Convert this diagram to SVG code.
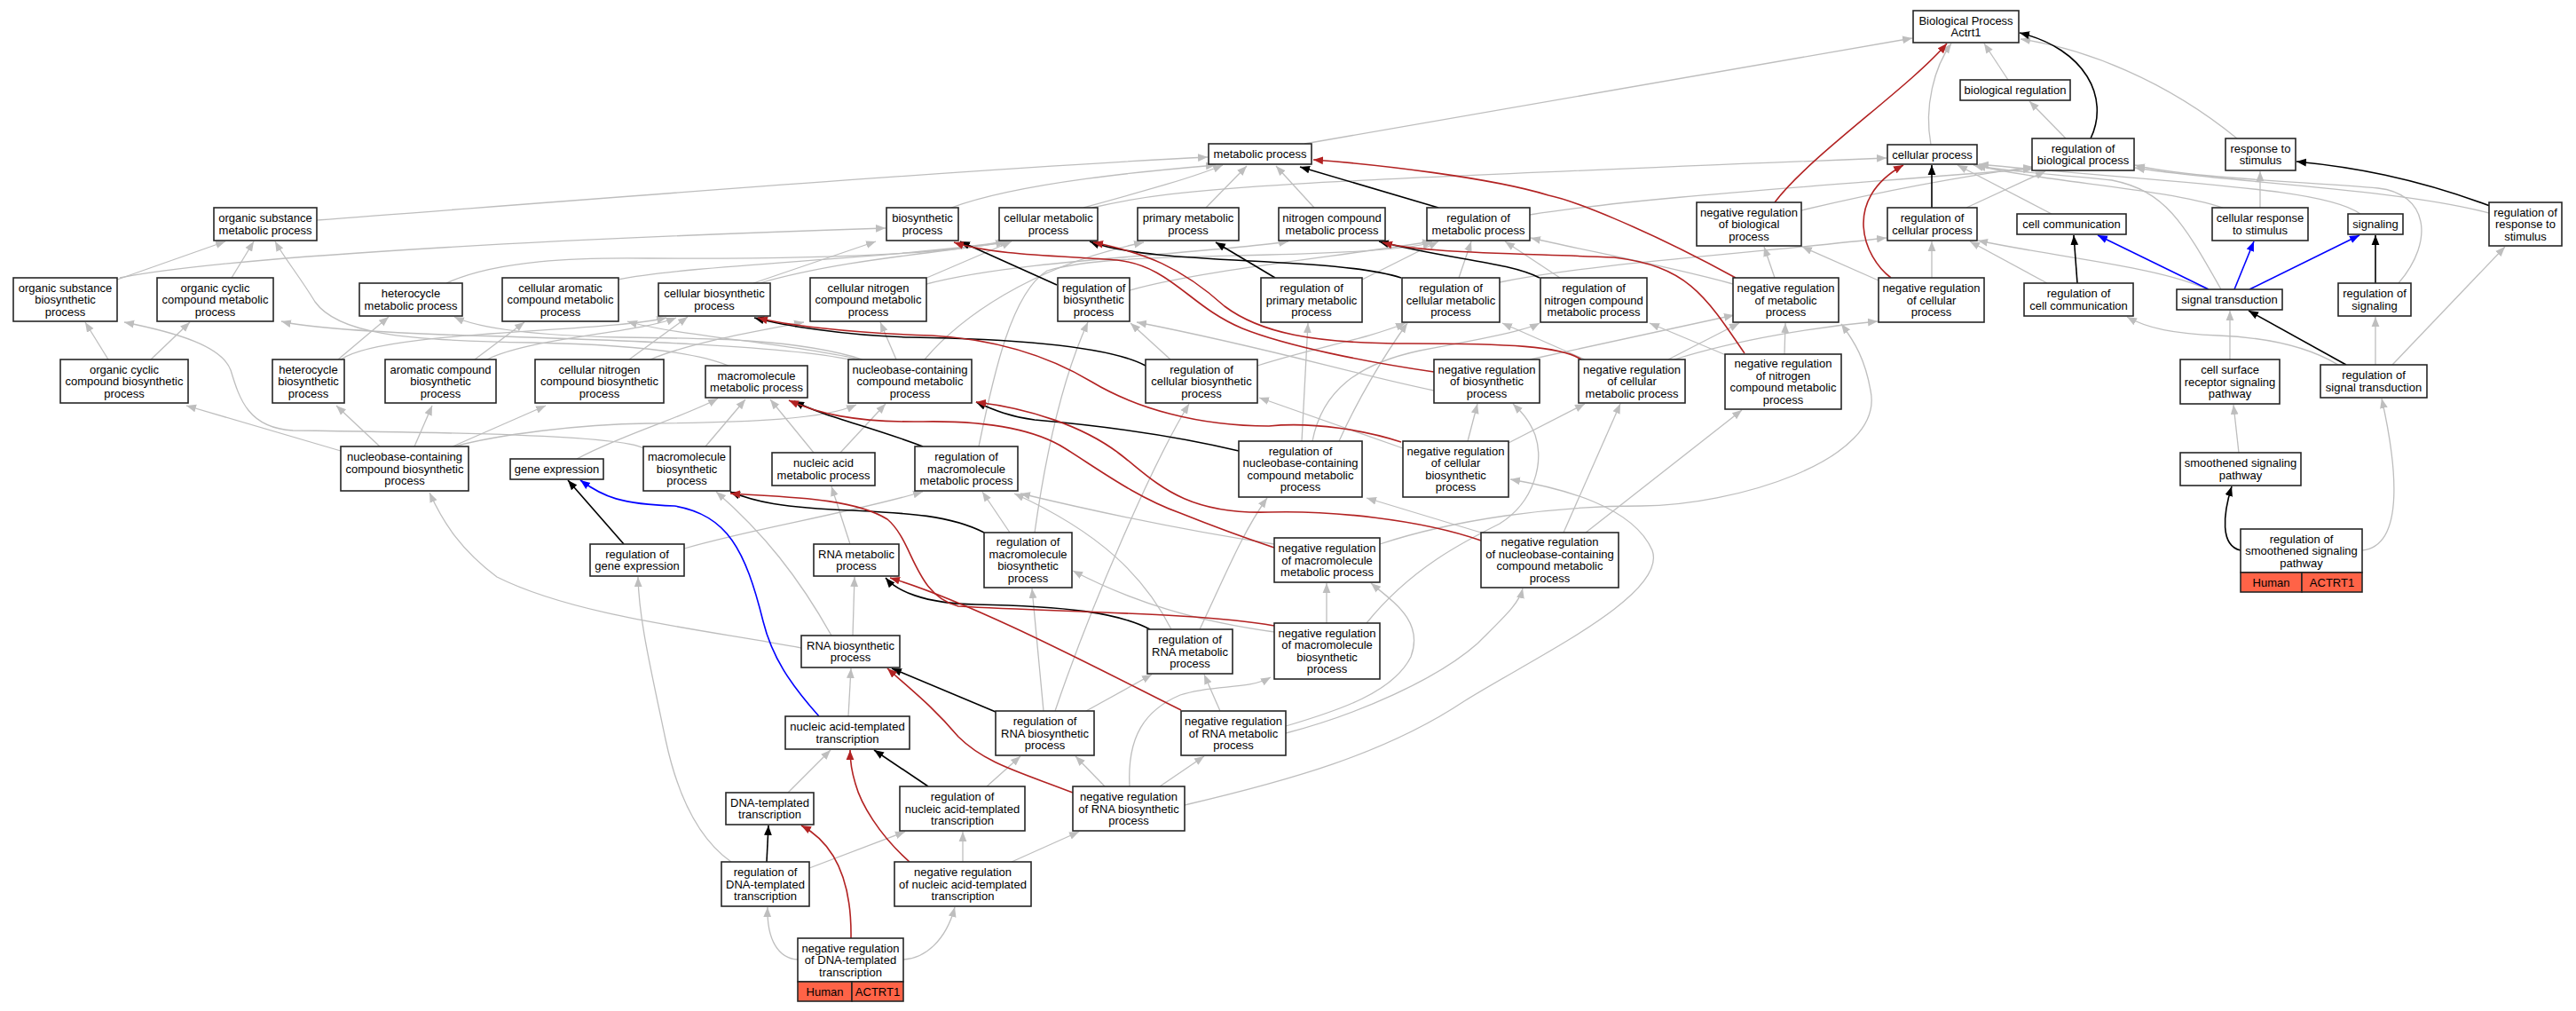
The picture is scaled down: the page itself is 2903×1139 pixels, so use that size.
<svg xmlns="http://www.w3.org/2000/svg" width="2903" height="1139" viewBox="0 0 2903 1139">
<style>
.n rect{fill:#fff;stroke:#262626;stroke-width:1.6}
.n rect.h{fill:#ff6347}
.n text{font-family:"Liberation Sans",Arial,sans-serif;font-size:13px;fill:#000;text-anchor:middle}
#edges path{fill:none}
.g{stroke:#bebebe;stroke-width:1.3;marker-end:url(#mg)}
.k{stroke:#000;stroke-width:1.6;marker-end:url(#mk)}
.r{stroke:#b22222;stroke-width:1.6;marker-end:url(#mr)}
.b{stroke:#0000ff;stroke-width:1.6;marker-end:url(#mb)}
</style>
<defs>
<marker id="mg" viewBox="0 0 10 10" refX="10" refY="5" markerWidth="11" markerHeight="11" markerUnits="userSpaceOnUse" orient="auto"><path d="M0,1 L10,5 L0,9 z" fill="#bebebe"/></marker>
<marker id="mk" viewBox="0 0 10 10" refX="10" refY="5" markerWidth="11" markerHeight="11" markerUnits="userSpaceOnUse" orient="auto"><path d="M0,1 L10,5 L0,9 z" fill="#000"/></marker>
<marker id="mr" viewBox="0 0 10 10" refX="10" refY="5" markerWidth="11" markerHeight="11" markerUnits="userSpaceOnUse" orient="auto"><path d="M0,1 L10,5 L0,9 z" fill="#b22222"/></marker>
<marker id="mb" viewBox="0 0 10 10" refX="10" refY="5" markerWidth="11" markerHeight="11" markerUnits="userSpaceOnUse" orient="auto"><path d="M0,1 L10,5 L0,9 z" fill="#0000ff"/></marker>
</defs>
<rect width="2903" height="1139" fill="#fff"/>
<g id="edges">
<path class="g" d="M1470,162 L2155,43"/>
<path class="g" d="M2176,163 C2168,120 2180,75 2199,49"/>
<path class="g" d="M2263,90 L2236,49"/>
<path class="g" d="M2521,156 C2440,90 2350,55 2277,44"/>
<path class="g" d="M2328,156 L2287,114"/>
<path class="g" d="M2312,241 L2206,186"/>
<path class="g" d="M2503,326 C2460,250 2440,215 2380,203 C2300,195 2250,192 2224,186"/>
<path class="g" d="M1231,234 C1330,210 1450,205 2126,178"/>
<path class="g" d="M2505,234 C2440,212 2300,205 2227,186"/>
<path class="g" d="M2660,241 C2620,212 2470,208 2230,185"/>
<path class="g" d="M2547,234 L2547,193"/>
<path class="g" d="M2805,240 C2700,212 2500,205 2406,189"/>
<path class="g" d="M2703,319 C2745,270 2735,218 2680,212 C2600,205 2460,200 2406,186"/>
<path class="g" d="M2216,234 L2305,193"/>
<path class="g" d="M2030,237 C2110,218 2200,200 2291,188"/>
<path class="g" d="M1724,242 C1850,222 2050,210 2291,190"/>
<path class="g" d="M2177,313 L2177,272"/>
<path class="g" d="M2307,319 L2220,272"/>
<path class="g" d="M2488,326 C2430,300 2330,292 2229,271"/>
<path class="g" d="M1690,318 C1800,296 1950,288 2126,268"/>
<path class="g" d="M2117,316 L2031,278"/>
<path class="g" d="M1887,405 C1960,382 2050,368 2116,362"/>
<path class="g" d="M1880,405 L1960,364"/>
<path class="g" d="M2011,399 L2012,364"/>
<path class="g" d="M1555,613 C1640,585 1750,570 1850,570 C1950,570 2125,520 2108,440 C2102,405 2090,385 2075,365"/>
<path class="g" d="M1953,320 C1880,300 1800,285 1725,268"/>
<path class="g" d="M2000,313 L1988,278"/>
<path class="g" d="M1481,234 L1438,187"/>
<path class="g" d="M1359,234 L1405,187"/>
<path class="g" d="M1221,234 C1290,215 1345,200 1378,186"/>
<path class="g" d="M1072,234 C1150,205 1300,192 1370,186"/>
<path class="g" d="M357,248 C700,222 1100,190 1361,177"/>
<path class="g" d="M132,315 L254,272"/>
<path class="g" d="M261,313 L286,272"/>
<path class="g" d="M135,313 C250,290 600,270 998,257"/>
<path class="g" d="M122,405 L96,363"/>
<path class="g" d="M170,405 L214,363"/>
<path class="g" d="M381,405 L438,357"/>
<path class="g" d="M384,405 C430,372 680,375 751,358"/>
<path class="g" d="M535,405 L591,363"/>
<path class="g" d="M549,405 C600,380 720,375 762,358"/>
<path class="g" d="M709,405 L775,357"/>
<path class="g" d="M733,405 C780,385 860,372 906,363"/>
<path class="g" d="M503,319 C560,293 650,290 730,291 C900,292 1060,288 1133,272"/>
<path class="g" d="M696,315 C780,298 1000,292 1135,272"/>
<path class="g" d="M849,319 L987,272"/>
<path class="g" d="M856,319 C950,292 1060,285 1138,272"/>
<path class="g" d="M1042,314 L1140,272"/>
<path class="g" d="M1044,320 C1150,292 1350,287 1452,272"/>
<path class="g" d="M1273,327 C1350,305 1500,290 1614,272"/>
<path class="g" d="M1535,315 L1621,272"/>
<path class="g" d="M1644,313 L1658,272"/>
<path class="g" d="M1758,313 L1696,272"/>
<path class="g" d="M1616,440 C1520,420 1430,392 1281,363"/>
<path class="g" d="M1724,405 L1954,355"/>
<path class="g" d="M1786,405 L1693,364"/>
<path class="g" d="M1945,400 L1859,364"/>
<path class="g" d="M1319,405 L1274,364"/>
<path class="g" d="M1417,412 C1480,392 1540,382 1584,364"/>
<path class="g" d="M1654,497 L1665,455"/>
<path class="g" d="M1700,499 L1786,455"/>
<path class="g" d="M1581,505 L1419,448"/>
<path class="g" d="M384,508 L210,457"/>
<path class="g" d="M428,503 L379,457"/>
<path class="g" d="M467,503 L487,457"/>
<path class="g" d="M510,503 L615,457"/>
<path class="g" d="M512,503 C560,490 650,478 730,477 C850,476 930,472 965,456"/>
<path class="g" d="M972,405 C900,382 800,381 700,380 C600,378 540,370 512,357"/>
<path class="g" d="M968,405 C900,388 760,378 707,362"/>
<path class="g" d="M965,407 C900,390 700,383 500,377 C400,373 340,368 317,362"/>
<path class="g" d="M1010,405 L992,363"/>
<path class="g" d="M1042,405 C1080,360 1160,300 1289,273"/>
<path class="g" d="M821,412 C780,395 700,388 600,386 C450,384 380,375 355,340 C338,312 320,290 310,272"/>
<path class="g" d="M725,505 C700,490 500,487 330,485 C280,482 270,450 260,417 C250,390 200,375 140,363"/>
<path class="g" d="M650,517 C700,490 770,470 809,449"/>
<path class="g" d="M795,503 L840,450"/>
<path class="g" d="M917,510 L868,450"/>
<path class="g" d="M947,510 L998,455"/>
<path class="g" d="M1103,503 C1120,420 1140,330 1180,305 C1230,290 1320,290 1430,287 C1520,285 1590,280 1614,273"/>
<path class="g" d="M1467,497 L1474,364"/>
<path class="g" d="M1509,497 C1530,450 1560,400 1586,364"/>
<path class="g" d="M1479,497 C1490,440 1530,410 1600,395 C1680,380 1720,372 1735,364"/>
<path class="g" d="M1669,600 L1540,561"/>
<path class="g" d="M1787,600 L1963,462"/>
<path class="g" d="M1762,600 L1826,455"/>
<path class="g" d="M2523,510 L2517,456"/>
<path class="g" d="M2662,620 C2712,615 2700,520 2684,449"/>
<path class="g" d="M2513,405 L2513,350"/>
<path class="g" d="M2677,411 L2677,357"/>
<path class="g" d="M2696,411 L2823,278"/>
<path class="g" d="M2635,411 C2600,390 2550,380 2500,378 C2450,376 2420,370 2397,357"/>
<path class="g" d="M771,618 C850,595 950,580 1040,554"/>
<path class="g" d="M958,613 L937,548"/>
<path class="g" d="M1138,600 L1107,554"/>
<path class="g" d="M1166,600 C1180,500 1200,420 1226,363"/>
<path class="g" d="M1436,613 C1350,600 1250,580 1150,556"/>
<path class="g" d="M1495,702 L1495,657"/>
<path class="g" d="M1436,712 C1350,700 1280,680 1209,643"/>
<path class="g" d="M1540,702 C1590,640 1650,610 1690,590 C1730,565 1740,520 1730,490 C1722,470 1712,462 1705,455"/>
<path class="g" d="M961,716 L963,650"/>
<path class="g" d="M937,716 C900,650 860,600 807,554"/>
<path class="g" d="M903,730 C800,710 650,695 560,650 C520,620 500,590 484,555"/>
<path class="g" d="M1352,709 C1380,650 1400,600 1428,561"/>
<path class="g" d="M1320,709 C1290,650 1240,600 1143,556"/>
<path class="g" d="M956,807 L959,753"/>
<path class="g" d="M1224,801 L1298,760"/>
<path class="g" d="M1176,801 L1163,663"/>
<path class="g" d="M1189,801 C1230,680 1300,520 1340,455"/>
<path class="g" d="M1375,801 L1357,760"/>
<path class="g" d="M1449,818 C1510,800 1570,780 1590,740 C1605,700 1570,678 1545,657"/>
<path class="g" d="M1449,826 C1530,805 1620,765 1665,725 C1695,695 1712,680 1716,663"/>
<path class="g" d="M888,893 L936,845"/>
<path class="g" d="M1112,886 L1150,852"/>
<path class="g" d="M1245,886 L1212,852"/>
<path class="g" d="M1307,886 L1357,852"/>
<path class="g" d="M1273,886 C1270,830 1290,800 1330,783 C1370,770 1405,778 1432,763"/>
<path class="g" d="M1335,907 C1450,880 1560,850 1650,790 C1730,740 1880,670 1862,620 C1840,570 1760,550 1702,540"/>
<path class="g" d="M912,978 L1020,937"/>
<path class="g" d="M824,971 C780,940 760,880 750,833 C735,760 720,700 719,650"/>
<path class="g" d="M1085,971 L1085,937"/>
<path class="g" d="M1140,971 L1216,937"/>
<path class="g" d="M899,1081 C878,1080 864,1060 865,1022"/>
<path class="g" d="M1018,1081 C1042,1080 1066,1060 1076,1022"/>
<path class="k" d="M2356,156 C2378,110 2350,55 2276,37"/>
<path class="k" d="M2177,234 L2177,186"/>
<path class="k" d="M2806,232 C2720,200 2650,188 2588,182"/>
<path class="k" d="M2341,319 L2337,265"/>
<path class="k" d="M2677,319 L2677,265"/>
<path class="k" d="M1621,234 L1465,188"/>
<path class="k" d="M1191,321 L1082,272"/>
<path class="k" d="M1437,313 L1370,273"/>
<path class="k" d="M1579,313 C1500,288 1300,300 1228,272"/>
<path class="k" d="M1735,313 C1700,295 1630,292 1554,272"/>
<path class="k" d="M1291,412 C1250,390 1150,382 1026,380 C950,378 880,366 850,358"/>
<path class="k" d="M1040,503 C980,480 930,470 895,452"/>
<path class="k" d="M1396,508 C1300,485 1200,476 1166,473 C1140,470 1120,462 1100,453"/>
<path class="k" d="M2644,411 L2534,350"/>
<path class="k" d="M2525,620 C2502,615 2505,580 2515,548"/>
<path class="k" d="M703,613 L640,541"/>
<path class="k" d="M1109,600 C1070,580 1020,578 960,575 C880,572 850,565 823,554"/>
<path class="k" d="M1296,709 C1260,690 1200,683 1100,681 C1040,680 1010,665 998,651"/>
<path class="k" d="M1122,802 L1005,753"/>
<path class="k" d="M1046,886 L985,845"/>
<path class="k" d="M864,971 L866,930"/>
<path class="r" d="M2000,228 C2040,175 2150,100 2194,49"/>
<path class="r" d="M2131,313 C2100,290 2075,225 2145,186"/>
<path class="r" d="M1956,313 C1850,255 1770,225 1745,220 C1680,200 1550,185 1480,180"/>
<path class="r" d="M1966,398 C1920,330 1900,300 1819,290 C1700,285 1600,285 1558,273"/>
<path class="r" d="M1782,405 C1760,390 1700,387 1586,387 C1480,387 1420,375 1380,345 C1330,300 1290,285 1232,273"/>
<path class="r" d="M1616,419 C1540,408 1450,390 1400,370 C1340,345 1320,300 1259,293 C1200,288 1120,288 1075,273"/>
<path class="r" d="M1579,498 C1540,485 1480,475 1430,480 C1350,480 1280,460 1230,430 C1180,400 1120,382 1050,378 C950,375 880,365 854,358"/>
<path class="r" d="M1669,609 C1600,585 1500,575 1430,577 C1330,580 1300,540 1260,510 C1220,480 1160,460 1100,453"/>
<path class="r" d="M1436,617 C1400,605 1360,590 1330,578 C1280,560 1240,530 1200,505 C1160,480 1100,474 1040,475 C960,476 920,465 889,451"/>
<path class="r" d="M1436,705 C1350,690 1200,690 1080,683 C1030,670 1030,610 1000,585 C960,560 880,560 823,556"/>
<path class="r" d="M1331,800 C1250,760 1100,680 1003,651"/>
<path class="r" d="M1209,893 C1150,870 1110,860 1080,830 C1050,795 1030,780 1000,753"/>
<path class="r" d="M1025,971 C990,940 970,905 964,883 C960,870 958,860 958,845"/>
<path class="r" d="M959,1057 C960,990 940,950 903,930"/>
<path class="b" d="M2489,326 L2364,265"/>
<path class="b" d="M2518,326 L2540,272"/>
<path class="b" d="M2535,326 L2659,265"/>
<path class="b" d="M923,807 C890,770 870,740 860,700 C840,620 820,580 760,570 C700,568 680,560 654,541"/>
</g>
<g id="nodes">
<g id="bp" class="n"><rect x="2156" y="12" width="119" height="36"/><text><tspan x="2215.5" y="27.9">Biological Process</tspan><tspan x="2215.5" y="41.4">Actrt1</tspan></text></g>
<g id="breg" class="n"><rect x="2209" y="90" width="124" height="23"/><text><tspan x="2271" y="106.1">biological regulation</tspan></text></g>
<g id="cp" class="n"><rect x="2127" y="163" width="101" height="22"/><text><tspan x="2177.5" y="178.6">cellular process</tspan></text></g>
<g id="rbp" class="n"><rect x="2290" y="156" width="115" height="36"/><text><tspan x="2347.5" y="171.9">regulation of</tspan><tspan x="2347.5" y="185.4">biological process</tspan></text></g>
<g id="rts" class="n"><rect x="2508" y="156" width="79" height="36"/><text><tspan x="2547.5" y="171.9">response to</tspan><tspan x="2547.5" y="185.4">stimulus</tspan></text></g>
<g id="mp" class="n"><rect x="1362" y="162" width="116" height="23"/><text><tspan x="1420" y="178.1">metabolic process</tspan></text></g>
<g id="osmp" class="n"><rect x="241" y="234" width="116" height="37"/><text><tspan x="299" y="250.4">organic substance</tspan><tspan x="299" y="263.9">metabolic process</tspan></text></g>
<g id="bsp" class="n"><rect x="999" y="234" width="81" height="37"/><text><tspan x="1039.5" y="250.4">biosynthetic</tspan><tspan x="1039.5" y="263.9">process</tspan></text></g>
<g id="cmp" class="n"><rect x="1126" y="234" width="111" height="37"/><text><tspan x="1181.5" y="250.4">cellular metabolic</tspan><tspan x="1181.5" y="263.9">process</tspan></text></g>
<g id="pmp" class="n"><rect x="1282" y="234" width="114" height="37"/><text><tspan x="1339" y="250.4">primary metabolic</tspan><tspan x="1339" y="263.9">process</tspan></text></g>
<g id="ncmp" class="n"><rect x="1441" y="234" width="120" height="37"/><text><tspan x="1501" y="250.4">nitrogen compound</tspan><tspan x="1501" y="263.9">metabolic process</tspan></text></g>
<g id="rmp" class="n"><rect x="1608" y="234" width="116" height="37"/><text><tspan x="1666" y="250.4">regulation of</tspan><tspan x="1666" y="263.9">metabolic process</tspan></text></g>
<g id="nrbp" class="n"><rect x="1912" y="228" width="118" height="49"/><text><tspan x="1971" y="243.6">negative regulation</tspan><tspan x="1971" y="257.1">of biological</tspan><tspan x="1971" y="270.6">process</tspan></text></g>
<g id="rcp" class="n"><rect x="2127" y="234" width="101" height="37"/><text><tspan x="2177.5" y="250.4">regulation of</tspan><tspan x="2177.5" y="263.9">cellular process</tspan></text></g>
<g id="cc" class="n"><rect x="2273" y="241" width="123" height="23"/><text><tspan x="2334.5" y="257.1">cell communication</tspan></text></g>
<g id="crs" class="n"><rect x="2493" y="234" width="108" height="37"/><text><tspan x="2547" y="250.4">cellular response</tspan><tspan x="2547" y="263.9">to stimulus</tspan></text></g>
<g id="sig" class="n"><rect x="2646" y="241" width="62" height="23"/><text><tspan x="2677" y="257.1">signaling</tspan></text></g>
<g id="rrs" class="n"><rect x="2805" y="228" width="82" height="49"/><text><tspan x="2846" y="243.6">regulation of</tspan><tspan x="2846" y="257.1">response to</tspan><tspan x="2846" y="270.6">stimulus</tspan></text></g>
<g id="osbp" class="n"><rect x="15" y="313" width="117" height="49"/><text><tspan x="73.5" y="328.6">organic substance</tspan><tspan x="73.5" y="342.1">biosynthetic</tspan><tspan x="73.5" y="355.6">process</tspan></text></g>
<g id="occmp" class="n"><rect x="177" y="313" width="131" height="49"/><text><tspan x="242.5" y="328.6">organic cyclic</tspan><tspan x="242.5" y="342.1">compound metabolic</tspan><tspan x="242.5" y="355.6">process</tspan></text></g>
<g id="hmp" class="n"><rect x="405" y="319" width="116" height="37"/><text><tspan x="463" y="335.4">heterocycle</tspan><tspan x="463" y="348.9">metabolic process</tspan></text></g>
<g id="cacmp" class="n"><rect x="566" y="313" width="131" height="49"/><text><tspan x="631.5" y="328.6">cellular aromatic</tspan><tspan x="631.5" y="342.1">compound metabolic</tspan><tspan x="631.5" y="355.6">process</tspan></text></g>
<g id="cbp" class="n"><rect x="742" y="319" width="126" height="37"/><text><tspan x="805" y="335.4">cellular biosynthetic</tspan><tspan x="805" y="348.9">process</tspan></text></g>
<g id="cncmp" class="n"><rect x="913" y="313" width="131" height="49"/><text><tspan x="978.5" y="328.6">cellular nitrogen</tspan><tspan x="978.5" y="342.1">compound metabolic</tspan><tspan x="978.5" y="355.6">process</tspan></text></g>
<g id="rbsp" class="n"><rect x="1192" y="313" width="81" height="49"/><text><tspan x="1232.5" y="328.6">regulation of</tspan><tspan x="1232.5" y="342.1">biosynthetic</tspan><tspan x="1232.5" y="355.6">process</tspan></text></g>
<g id="rpmp" class="n"><rect x="1421" y="313" width="114" height="50"/><text><tspan x="1478" y="329.1">regulation of</tspan><tspan x="1478" y="342.6">primary metabolic</tspan><tspan x="1478" y="356.1">process</tspan></text></g>
<g id="rcmp" class="n"><rect x="1580" y="313" width="110" height="50"/><text><tspan x="1635" y="329.1">regulation of</tspan><tspan x="1635" y="342.6">cellular metabolic</tspan><tspan x="1635" y="356.1">process</tspan></text></g>
<g id="rncmp" class="n"><rect x="1736" y="313" width="120" height="50"/><text><tspan x="1796" y="329.1">regulation of</tspan><tspan x="1796" y="342.6">nitrogen compound</tspan><tspan x="1796" y="356.1">metabolic process</tspan></text></g>
<g id="nrmp" class="n"><rect x="1953" y="313" width="119" height="50"/><text><tspan x="2012.5" y="329.1">negative regulation</tspan><tspan x="2012.5" y="342.6">of metabolic</tspan><tspan x="2012.5" y="356.1">process</tspan></text></g>
<g id="nrcp" class="n"><rect x="2117" y="313" width="119" height="50"/><text><tspan x="2176.5" y="329.1">negative regulation</tspan><tspan x="2176.5" y="342.6">of cellular</tspan><tspan x="2176.5" y="356.1">process</tspan></text></g>
<g id="rcc" class="n"><rect x="2281" y="319" width="123" height="37"/><text><tspan x="2342.5" y="335.4">regulation of</tspan><tspan x="2342.5" y="348.9">cell communication</tspan></text></g>
<g id="st" class="n"><rect x="2453" y="326" width="119" height="23"/><text><tspan x="2512.5" y="342.1">signal transduction</tspan></text></g>
<g id="rsig" class="n"><rect x="2635" y="319" width="82" height="37"/><text><tspan x="2676" y="335.4">regulation of</tspan><tspan x="2676" y="348.9">signaling</tspan></text></g>
<g id="occbp" class="n"><rect x="68" y="405" width="144" height="49"/><text><tspan x="140" y="420.6">organic cyclic</tspan><tspan x="140" y="434.1">compound biosynthetic</tspan><tspan x="140" y="447.6">process</tspan></text></g>
<g id="hbp" class="n"><rect x="307" y="405" width="81" height="49"/><text><tspan x="347.5" y="420.6">heterocycle</tspan><tspan x="347.5" y="434.1">biosynthetic</tspan><tspan x="347.5" y="447.6">process</tspan></text></g>
<g id="acbp" class="n"><rect x="434" y="405" width="125" height="49"/><text><tspan x="496.5" y="420.6">aromatic compound</tspan><tspan x="496.5" y="434.1">biosynthetic</tspan><tspan x="496.5" y="447.6">process</tspan></text></g>
<g id="cncbp" class="n"><rect x="603" y="405" width="145" height="49"/><text><tspan x="675.5" y="420.6">cellular nitrogen</tspan><tspan x="675.5" y="434.1">compound biosynthetic</tspan><tspan x="675.5" y="447.6">process</tspan></text></g>
<g id="mmp" class="n"><rect x="795" y="412" width="115" height="36"/><text><tspan x="852.5" y="427.9">macromolecule</tspan><tspan x="852.5" y="441.4">metabolic process</tspan></text></g>
<g id="nbcmp" class="n"><rect x="956" y="405" width="139" height="49"/><text><tspan x="1025.5" y="420.6">nucleobase-containing</tspan><tspan x="1025.5" y="434.1">compound metabolic</tspan><tspan x="1025.5" y="447.6">process</tspan></text></g>
<g id="rcbp" class="n"><rect x="1291" y="405" width="126" height="49"/><text><tspan x="1354" y="420.6">regulation of</tspan><tspan x="1354" y="434.1">cellular biosynthetic</tspan><tspan x="1354" y="447.6">process</tspan></text></g>
<g id="nrbsp" class="n"><rect x="1616" y="405" width="119" height="49"/><text><tspan x="1675.5" y="420.6">negative regulation</tspan><tspan x="1675.5" y="434.1">of biosynthetic</tspan><tspan x="1675.5" y="447.6">process</tspan></text></g>
<g id="nrcmp" class="n"><rect x="1779" y="405" width="120" height="49"/><text><tspan x="1839" y="420.6">negative regulation</tspan><tspan x="1839" y="434.1">of cellular</tspan><tspan x="1839" y="447.6">metabolic process</tspan></text></g>
<g id="nrncmp" class="n"><rect x="1944" y="399" width="131" height="62"/><text><tspan x="2009.5" y="414.4">negative regulation</tspan><tspan x="2009.5" y="427.9">of nitrogen</tspan><tspan x="2009.5" y="441.4">compound metabolic</tspan><tspan x="2009.5" y="454.9">process</tspan></text></g>
<g id="csrsp" class="n"><rect x="2457" y="405" width="112" height="50"/><text><tspan x="2513" y="421.1">cell surface</tspan><tspan x="2513" y="434.6">receptor signaling</tspan><tspan x="2513" y="448.1">pathway</tspan></text></g>
<g id="rst" class="n"><rect x="2615" y="411" width="120" height="37"/><text><tspan x="2675" y="427.4">regulation of</tspan><tspan x="2675" y="440.9">signal transduction</tspan></text></g>
<g id="nbcbp" class="n"><rect x="384" y="503" width="144" height="50"/><text><tspan x="456" y="519.1">nucleobase-containing</tspan><tspan x="456" y="532.6">compound biosynthetic</tspan><tspan x="456" y="546.1">process</tspan></text></g>
<g id="ge" class="n"><rect x="575" y="517" width="105" height="23"/><text><tspan x="627.5" y="533.1">gene expression</tspan></text></g>
<g id="mbp" class="n"><rect x="725" y="503" width="98" height="50"/><text><tspan x="774" y="519.1">macromolecule</tspan><tspan x="774" y="532.6">biosynthetic</tspan><tspan x="774" y="546.1">process</tspan></text></g>
<g id="namp" class="n"><rect x="870" y="510" width="116" height="37"/><text><tspan x="928" y="526.4">nucleic acid</tspan><tspan x="928" y="539.9">metabolic process</tspan></text></g>
<g id="rmmp" class="n"><rect x="1031" y="503" width="116" height="50"/><text><tspan x="1089" y="519.1">regulation of</tspan><tspan x="1089" y="532.6">macromolecule</tspan><tspan x="1089" y="546.1">metabolic process</tspan></text></g>
<g id="rnbcmp" class="n"><rect x="1396" y="497" width="139" height="63"/><text><tspan x="1465.5" y="512.9">regulation of</tspan><tspan x="1465.5" y="526.4">nucleobase-containing</tspan><tspan x="1465.5" y="539.9">compound metabolic</tspan><tspan x="1465.5" y="553.4">process</tspan></text></g>
<g id="nrcbp" class="n"><rect x="1581" y="497" width="119" height="63"/><text><tspan x="1640.5" y="512.9">negative regulation</tspan><tspan x="1640.5" y="526.4">of cellular</tspan><tspan x="1640.5" y="539.9">biosynthetic</tspan><tspan x="1640.5" y="553.4">process</tspan></text></g>
<g id="ssp" class="n"><rect x="2457" y="510" width="136" height="37"/><text><tspan x="2525" y="526.4">smoothened signaling</tspan><tspan x="2525" y="539.9">pathway</tspan></text></g>
<g id="rssp" class="n"><rect x="2525" y="596" width="137" height="49"/><rect class="h" x="2525" y="645" width="69" height="22"/><rect class="h" x="2594" y="645" width="68" height="22"/><text><tspan x="2593.5" y="611.6">regulation of</tspan><tspan x="2593.5" y="625.1">smoothened signaling</tspan><tspan x="2593.5" y="638.6">pathway</tspan></text><text><tspan x="2559.5" y="660.6">Human</tspan></text><text><tspan x="2628" y="660.6">ACTRT1</tspan></text></g>
<g id="rge" class="n"><rect x="665" y="613" width="106" height="36"/><text><tspan x="718" y="628.9">regulation of</tspan><tspan x="718" y="642.4">gene expression</tspan></text></g>
<g id="rnamp" class="n"><rect x="917" y="613" width="96" height="36"/><text><tspan x="965" y="628.9">RNA metabolic</tspan><tspan x="965" y="642.4">process</tspan></text></g>
<g id="rmbp" class="n"><rect x="1109" y="600" width="99" height="62"/><text><tspan x="1158.5" y="615.4">regulation of</tspan><tspan x="1158.5" y="628.9">macromolecule</tspan><tspan x="1158.5" y="642.4">biosynthetic</tspan><tspan x="1158.5" y="655.9">process</tspan></text></g>
<g id="nrmmp" class="n"><rect x="1436" y="606" width="119" height="50"/><text><tspan x="1495.5" y="622.1">negative regulation</tspan><tspan x="1495.5" y="635.6">of macromolecule</tspan><tspan x="1495.5" y="649.1">metabolic process</tspan></text></g>
<g id="nrnbcmp" class="n"><rect x="1669" y="600" width="155" height="62"/><text><tspan x="1746.5" y="615.4">negative regulation</tspan><tspan x="1746.5" y="628.9">of nucleobase-containing</tspan><tspan x="1746.5" y="642.4">compound metabolic</tspan><tspan x="1746.5" y="655.9">process</tspan></text></g>
<g id="rnabp" class="n"><rect x="903" y="716" width="111" height="36"/><text><tspan x="958.5" y="731.9">RNA biosynthetic</tspan><tspan x="958.5" y="745.4">process</tspan></text></g>
<g id="rrnamp" class="n"><rect x="1293" y="709" width="96" height="50"/><text><tspan x="1341" y="725.1">regulation of</tspan><tspan x="1341" y="738.6">RNA metabolic</tspan><tspan x="1341" y="752.1">process</tspan></text></g>
<g id="nrmbp" class="n"><rect x="1436" y="702" width="119" height="63"/><text><tspan x="1495.5" y="717.9">negative regulation</tspan><tspan x="1495.5" y="731.4">of macromolecule</tspan><tspan x="1495.5" y="744.9">biosynthetic</tspan><tspan x="1495.5" y="758.4">process</tspan></text></g>
<g id="natt" class="n"><rect x="885" y="807" width="140" height="37"/><text><tspan x="955" y="823.4">nucleic acid-templated</tspan><tspan x="955" y="836.9">transcription</tspan></text></g>
<g id="rrnabp" class="n"><rect x="1122" y="801" width="111" height="50"/><text><tspan x="1177.5" y="817.1">regulation of</tspan><tspan x="1177.5" y="830.6">RNA biosynthetic</tspan><tspan x="1177.5" y="844.1">process</tspan></text></g>
<g id="nrrnamp" class="n"><rect x="1331" y="801" width="118" height="50"/><text><tspan x="1390" y="817.1">negative regulation</tspan><tspan x="1390" y="830.6">of RNA metabolic</tspan><tspan x="1390" y="844.1">process</tspan></text></g>
<g id="dtt" class="n"><rect x="818" y="893" width="99" height="36"/><text><tspan x="867.5" y="908.9">DNA-templated</tspan><tspan x="867.5" y="922.4">transcription</tspan></text></g>
<g id="rnatt" class="n"><rect x="1014" y="886" width="141" height="50"/><text><tspan x="1084.5" y="902.1">regulation of</tspan><tspan x="1084.5" y="915.6">nucleic acid-templated</tspan><tspan x="1084.5" y="929.1">transcription</tspan></text></g>
<g id="nrrnabp" class="n"><rect x="1209" y="886" width="126" height="50"/><text><tspan x="1272" y="902.1">negative regulation</tspan><tspan x="1272" y="915.6">of RNA biosynthetic</tspan><tspan x="1272" y="929.1">process</tspan></text></g>
<g id="rdtt" class="n"><rect x="813" y="971" width="99" height="50"/><text><tspan x="862.5" y="987.1">regulation of</tspan><tspan x="862.5" y="1000.6">DNA-templated</tspan><tspan x="862.5" y="1014.1">transcription</tspan></text></g>
<g id="nrnatt" class="n"><rect x="1008" y="971" width="154" height="50"/><text><tspan x="1085" y="987.1">negative regulation</tspan><tspan x="1085" y="1000.6">of nucleic acid-templated</tspan><tspan x="1085" y="1014.1">transcription</tspan></text></g>
<g id="nrdtt" class="n"><rect x="899" y="1057" width="119" height="49"/><rect class="h" x="899" y="1106" width="61" height="22"/><rect class="h" x="960" y="1106" width="58" height="22"/><text><tspan x="958.5" y="1072.6">negative regulation</tspan><tspan x="958.5" y="1086.1">of DNA-templated</tspan><tspan x="958.5" y="1099.6">transcription</tspan></text><text><tspan x="929.5" y="1121.6">Human</tspan></text><text><tspan x="989" y="1121.6">ACTRT1</tspan></text></g>
</g>
</svg>
